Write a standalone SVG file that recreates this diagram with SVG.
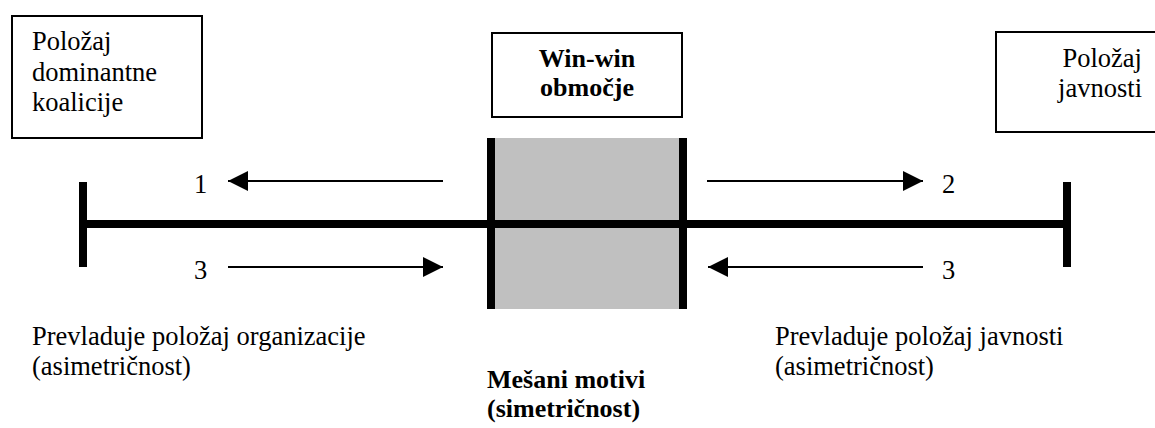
<svg xmlns="http://www.w3.org/2000/svg" width="1155" height="428" viewBox="0 0 1155 428">
<style>
text{font-size:26.5px;fill:#000}
.b{font-weight:bold;font-size:26px}
.box{fill:#fff;stroke:#000;stroke-width:2}
.thick{stroke:#000;stroke-width:8;fill:none}
.arr{stroke:#000;stroke-width:1.8;fill:none;marker-end:url(#ah)}
</style>
<defs>
<marker id="ah" markerUnits="userSpaceOnUse" markerWidth="20" markerHeight="20" viewBox="0 0 20 20" refX="20" refY="10" orient="auto">
<path d="M0,0 L20,10 L0,20 Z" fill="#000"/>
</marker>
<clipPath id="clip3"><rect x="0" y="0" width="1155" height="281"/></clipPath>
</defs>
<g font-family="'Liberation Serif', 'Times New Roman', Tinos, 'DejaVu Serif', serif">
<g id="zone">
<rect x="491" y="138" width="192" height="171" fill="#c0c0c0"/>
</g>
<g id="axis">
<line class="thick" x1="79" y1="224" x2="1071" y2="224"/>
<line class="thick" x1="83" y1="182" x2="83" y2="267"/>
<line class="thick" x1="1067" y1="182" x2="1067" y2="267"/>
<line class="thick" x1="491" y1="138" x2="491" y2="309"/>
<line class="thick" x1="683" y1="138" x2="683" y2="309"/>
</g>
<g id="box-left">
<rect class="box" x="12" y="16" width="190" height="122"/>
<text x="32" y="50">Položaj</text>
<text x="32" y="81">dominantne</text>
<text x="32" y="111">koalicije</text>
</g>
<g id="box-center">
<rect class="box" x="492" y="33" width="190" height="84"/>
<text class="b" x="587" y="67" text-anchor="middle">Win-win</text>
<text class="b" x="587" y="96" text-anchor="middle">območje</text>
</g>
<g id="box-right">
<rect class="box" x="996" y="32" width="170" height="100"/>
<text x="1142" y="67" text-anchor="end">Položaj</text>
<text x="1142" y="97" text-anchor="end">javnosti</text>
</g>
<g id="connectors">
<line class="arr" x1="443" y1="181" x2="228" y2="181"/>
<line class="arr" x1="707" y1="181" x2="923" y2="181"/>
<line class="arr" x1="228" y1="267" x2="443" y2="267"/>
<line class="arr" x1="923" y1="267" x2="708" y2="267"/>
</g>
<g id="labels">
<text x="194" y="193">1</text>
<text x="942" y="193">2</text>
<g clip-path="url(#clip3)">
<text x="194" y="279">3</text>
<text x="942" y="279">3</text>
</g>
</g>
<g id="caption-left">
<text x="32" y="345">Prevladuje položaj organizacije</text>
<text x="32" y="375">(asimetričnost)</text>
</g>
<g id="caption-center">
<text class="b" x="487" y="388">Mešani motivi</text>
<text class="b" x="487" y="417">(simetričnost)</text>
</g>
<g id="caption-right">
<text x="775" y="345">Prevladuje položaj javnosti</text>
<text x="775" y="375">(asimetričnost)</text>
</g>
</g>
</svg>
